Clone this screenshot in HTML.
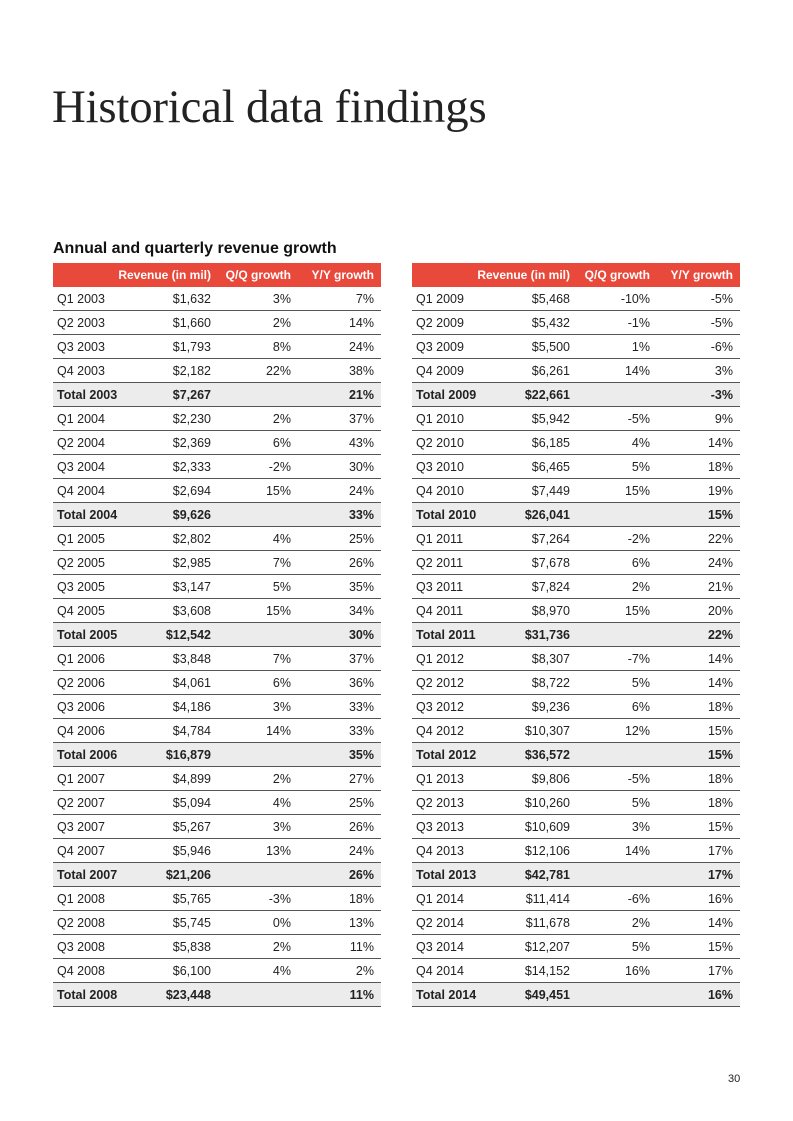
<!DOCTYPE html>
<html><head><style>
body{margin:0;width:793px;height:1121px;background:#fff;position:relative;font-family:"Liberation Sans",sans-serif;color:#222}
h1{position:absolute;left:52px;top:80px;margin:0;font-family:"Liberation Serif",serif;font-weight:normal;font-size:46.8px;color:#222;letter-spacing:-0.2px}
h2{position:absolute;left:53px;top:240px;margin:0;font-size:16px;font-weight:bold;color:#111}
table{position:absolute;top:263px;border-collapse:collapse;font-size:12.5px;width:328px;table-layout:fixed}
td,th{height:23px;padding:0;text-align:right;border-bottom:1px solid #555}
th{background:#e8493b;color:#fff;font-weight:bold;border-bottom:none;height:24px;white-space:nowrap;font-size:12px}
td:first-child{text-align:left;padding-left:4px;white-space:nowrap}
tr.t td{background:#ececec;font-weight:bold}
.c1{width:60px;padding-left:4px}.c2{width:94px}.c3{width:80px}.c4{width:83px;padding-right:7px}
.pg{position:absolute;left:728px;top:1073px;font-size:11px}
</style></head><body>
<h1>Historical data findings</h1>
<h2>Annual and quarterly revenue growth</h2>
<table style="left:53px">
<tr><th class="c1"></th><th class="c2">Revenue (in mil)</th><th class="c3">Q/Q growth</th><th class="c4">Y/Y growth</th></tr>
<tr><td>Q1 2003</td><td>$1,632</td><td>3%</td><td class="c4">7%</td></tr>
<tr><td>Q2 2003</td><td>$1,660</td><td>2%</td><td class="c4">14%</td></tr>
<tr><td>Q3 2003</td><td>$1,793</td><td>8%</td><td class="c4">24%</td></tr>
<tr><td>Q4 2003</td><td>$2,182</td><td>22%</td><td class="c4">38%</td></tr>
<tr class="t"><td>Total 2003</td><td>$7,267</td><td></td><td class="c4">21%</td></tr>
<tr><td>Q1 2004</td><td>$2,230</td><td>2%</td><td class="c4">37%</td></tr>
<tr><td>Q2 2004</td><td>$2,369</td><td>6%</td><td class="c4">43%</td></tr>
<tr><td>Q3 2004</td><td>$2,333</td><td>-2%</td><td class="c4">30%</td></tr>
<tr><td>Q4 2004</td><td>$2,694</td><td>15%</td><td class="c4">24%</td></tr>
<tr class="t"><td>Total 2004</td><td>$9,626</td><td></td><td class="c4">33%</td></tr>
<tr><td>Q1 2005</td><td>$2,802</td><td>4%</td><td class="c4">25%</td></tr>
<tr><td>Q2 2005</td><td>$2,985</td><td>7%</td><td class="c4">26%</td></tr>
<tr><td>Q3 2005</td><td>$3,147</td><td>5%</td><td class="c4">35%</td></tr>
<tr><td>Q4 2005</td><td>$3,608</td><td>15%</td><td class="c4">34%</td></tr>
<tr class="t"><td>Total 2005</td><td>$12,542</td><td></td><td class="c4">30%</td></tr>
<tr><td>Q1 2006</td><td>$3,848</td><td>7%</td><td class="c4">37%</td></tr>
<tr><td>Q2 2006</td><td>$4,061</td><td>6%</td><td class="c4">36%</td></tr>
<tr><td>Q3 2006</td><td>$4,186</td><td>3%</td><td class="c4">33%</td></tr>
<tr><td>Q4 2006</td><td>$4,784</td><td>14%</td><td class="c4">33%</td></tr>
<tr class="t"><td>Total 2006</td><td>$16,879</td><td></td><td class="c4">35%</td></tr>
<tr><td>Q1 2007</td><td>$4,899</td><td>2%</td><td class="c4">27%</td></tr>
<tr><td>Q2 2007</td><td>$5,094</td><td>4%</td><td class="c4">25%</td></tr>
<tr><td>Q3 2007</td><td>$5,267</td><td>3%</td><td class="c4">26%</td></tr>
<tr><td>Q4 2007</td><td>$5,946</td><td>13%</td><td class="c4">24%</td></tr>
<tr class="t"><td>Total 2007</td><td>$21,206</td><td></td><td class="c4">26%</td></tr>
<tr><td>Q1 2008</td><td>$5,765</td><td>-3%</td><td class="c4">18%</td></tr>
<tr><td>Q2 2008</td><td>$5,745</td><td>0%</td><td class="c4">13%</td></tr>
<tr><td>Q3 2008</td><td>$5,838</td><td>2%</td><td class="c4">11%</td></tr>
<tr><td>Q4 2008</td><td>$6,100</td><td>4%</td><td class="c4">2%</td></tr>
<tr class="t"><td>Total 2008</td><td>$23,448</td><td></td><td class="c4">11%</td></tr>
</table>
<table style="left:412px">
<tr><th class="c1"></th><th class="c2">Revenue (in mil)</th><th class="c3">Q/Q growth</th><th class="c4">Y/Y growth</th></tr>
<tr><td>Q1 2009</td><td>$5,468</td><td>-10%</td><td class="c4">-5%</td></tr>
<tr><td>Q2 2009</td><td>$5,432</td><td>-1%</td><td class="c4">-5%</td></tr>
<tr><td>Q3 2009</td><td>$5,500</td><td>1%</td><td class="c4">-6%</td></tr>
<tr><td>Q4 2009</td><td>$6,261</td><td>14%</td><td class="c4">3%</td></tr>
<tr class="t"><td>Total 2009</td><td>$22,661</td><td></td><td class="c4">-3%</td></tr>
<tr><td>Q1 2010</td><td>$5,942</td><td>-5%</td><td class="c4">9%</td></tr>
<tr><td>Q2 2010</td><td>$6,185</td><td>4%</td><td class="c4">14%</td></tr>
<tr><td>Q3 2010</td><td>$6,465</td><td>5%</td><td class="c4">18%</td></tr>
<tr><td>Q4 2010</td><td>$7,449</td><td>15%</td><td class="c4">19%</td></tr>
<tr class="t"><td>Total 2010</td><td>$26,041</td><td></td><td class="c4">15%</td></tr>
<tr><td>Q1 2011</td><td>$7,264</td><td>-2%</td><td class="c4">22%</td></tr>
<tr><td>Q2 2011</td><td>$7,678</td><td>6%</td><td class="c4">24%</td></tr>
<tr><td>Q3 2011</td><td>$7,824</td><td>2%</td><td class="c4">21%</td></tr>
<tr><td>Q4 2011</td><td>$8,970</td><td>15%</td><td class="c4">20%</td></tr>
<tr class="t"><td>Total 2011</td><td>$31,736</td><td></td><td class="c4">22%</td></tr>
<tr><td>Q1 2012</td><td>$8,307</td><td>-7%</td><td class="c4">14%</td></tr>
<tr><td>Q2 2012</td><td>$8,722</td><td>5%</td><td class="c4">14%</td></tr>
<tr><td>Q3 2012</td><td>$9,236</td><td>6%</td><td class="c4">18%</td></tr>
<tr><td>Q4 2012</td><td>$10,307</td><td>12%</td><td class="c4">15%</td></tr>
<tr class="t"><td>Total 2012</td><td>$36,572</td><td></td><td class="c4">15%</td></tr>
<tr><td>Q1 2013</td><td>$9,806</td><td>-5%</td><td class="c4">18%</td></tr>
<tr><td>Q2 2013</td><td>$10,260</td><td>5%</td><td class="c4">18%</td></tr>
<tr><td>Q3 2013</td><td>$10,609</td><td>3%</td><td class="c4">15%</td></tr>
<tr><td>Q4 2013</td><td>$12,106</td><td>14%</td><td class="c4">17%</td></tr>
<tr class="t"><td>Total 2013</td><td>$42,781</td><td></td><td class="c4">17%</td></tr>
<tr><td>Q1 2014</td><td>$11,414</td><td>-6%</td><td class="c4">16%</td></tr>
<tr><td>Q2 2014</td><td>$11,678</td><td>2%</td><td class="c4">14%</td></tr>
<tr><td>Q3 2014</td><td>$12,207</td><td>5%</td><td class="c4">15%</td></tr>
<tr><td>Q4 2014</td><td>$14,152</td><td>16%</td><td class="c4">17%</td></tr>
<tr class="t"><td>Total 2014</td><td>$49,451</td><td></td><td class="c4">16%</td></tr>
</table>
<div class="pg">30</div>
</body></html>
